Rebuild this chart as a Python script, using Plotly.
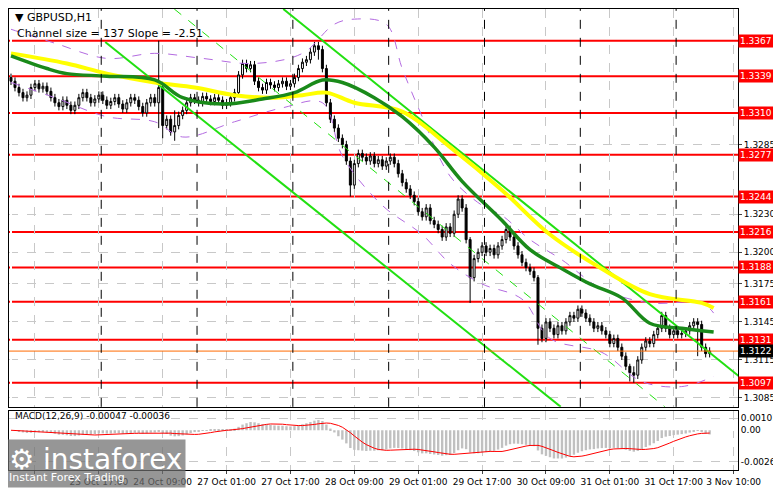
import plotly.graph_objects as go

# hourly closes, GBPUSD H1
closes = [1.3335, 1.3330, 1.3326, 1.3322, 1.3324, 1.3330, 1.3333, 1.3329, 1.3331, 1.3327, 1.3322, 1.3318, 1.3315, 1.3320, 1.3316,
          1.3312, 1.3316, 1.3322, 1.3326, 1.3322, 1.3318, 1.3321, 1.3324, 1.3320, 1.3316, 1.3319, 1.3322, 1.3317, 1.3313, 1.3318,
          1.3322, 1.3320, 1.3315, 1.3310, 1.3318, 1.3322,
          1.3318, 1.3330, 1.3300, 1.3305, 1.3295, 1.3300, 1.3308,
          1.3312, 1.3318, 1.3322, 1.3320, 1.3318, 1.3323, 1.3321, 1.3319, 1.3322, 1.3320, 1.3316, 1.3318, 1.3322, 1.3326,
          1.3340, 1.3349, 1.3345, 1.3348, 1.3335, 1.3330,
          1.3328, 1.3334, 1.3332, 1.3330, 1.3333, 1.3335, 1.3331, 1.3333, 1.3338,
          1.3345, 1.3350, 1.3352, 1.3358, 1.3363, 1.3360,
          1.3345, 1.3318, 1.3305, 1.3298, 1.3290, 1.3285, 1.3272, 1.3253, 1.3270,
          1.3278, 1.3275, 1.3272, 1.3276, 1.3270, 1.3273, 1.3268, 1.3272, 1.3275, 1.3270,
          1.3262, 1.3255, 1.3250, 1.3245, 1.3240, 1.3232, 1.3228, 1.3235, 1.3225,
          1.3222, 1.3218, 1.3212, 1.3220, 1.3215, 1.3230,
          1.3242, 1.3235, 1.3210,
          1.3180, 1.3195, 1.3200,
          1.3205, 1.3200, 1.3203, 1.3198, 1.3205, 1.3210, 1.3218,
          1.3212, 1.3205, 1.3198, 1.3192, 1.3188, 1.3185, 1.3180,
          1.3140, 1.3132, 1.3145,
          1.3140, 1.3135, 1.3142, 1.3138, 1.3145, 1.3150, 1.3148, 1.3155, 1.3152, 1.3148, 1.3145, 1.3140,
          1.3142, 1.3138, 1.3135, 1.3128, 1.3132, 1.3125, 1.3118, 1.3110, 1.3105,
          1.3103, 1.3115, 1.3125, 1.3130, 1.3128,
          1.3135, 1.3140, 1.3150, 1.3140, 1.3135, 1.3138, 1.3135, 1.3136,
          1.3138, 1.3142, 1.3145, 1.3143, 1.3125, 1.3120, 1.3122]
first_open = 1.3338
long_wicks = {37: (1.3367, 1.3298), 38: (1.3332, 1.3290), 41: (1.3312, 1.3288), 77: (1.3366, 1.3352),
              85: (1.3275, 1.3244), 115: (1.3212, 1.3160), 132: (1.3182, 1.3127), 155: (1.3112, 1.3098),
              156: (1.3110, 1.3097), 172: (1.3148, 1.3118)}

yellow_x = [0, 14, 24, 36, 46, 56, 66, 73, 79, 86, 98, 110, 123, 135, 148, 160, 173, 176]
yellow_ma = [1.3357, 1.3349, 1.3341, 1.3334, 1.3330, 1.3324, 1.3322, 1.3324, 1.3326, 1.3318, 1.3311, 1.3283,
             1.3249, 1.3214, 1.3187, 1.3167, 1.3160, 1.3156]
green_x = [0, 9, 14, 24, 36, 43, 53, 63, 71, 78, 83, 91, 98, 106, 113, 123, 130, 138, 145, 153, 160, 168, 176]
green_ma = [1.3355, 1.3345, 1.3341, 1.3339, 1.3336, 1.3322, 1.3317, 1.3321, 1.3326, 1.3336, 1.3334, 1.3322,
            1.3307, 1.3283, 1.3256, 1.3225, 1.3202, 1.3187, 1.3175, 1.3164, 1.3144, 1.3140, 1.3137]
env_up_x = [0, 11, 24, 36, 48, 61, 73, 81, 86, 94, 98, 103, 110, 118, 123, 130, 138, 148, 160, 173, 176]
env_up = [1.3376, 1.3365, 1.3353, 1.3357, 1.3353, 1.3349, 1.3357, 1.3380, 1.3384, 1.3380, 1.3345, 1.3307,
          1.3260, 1.3237, 1.3229, 1.3210, 1.3194, 1.3171, 1.3160, 1.3160, 1.3152]
env_lo_x = [0, 11, 24, 36, 43, 56, 68, 78, 83, 93, 103, 110, 118, 128, 135, 148, 158, 168, 176]
env_lo = [1.3334, 1.3322, 1.3307, 1.3303, 1.3291, 1.3303, 1.3314, 1.3318, 1.3276, 1.3237, 1.3214, 1.3191,
          1.3175, 1.3163, 1.3132, 1.3121, 1.3098, 1.3094, 1.3102]

channel_upper = ([68.2, 182.4], [1.3392, 1.3102])
channel_lower = ([23.6, 137.7], [1.3366, 1.3078])
channel_mid = ([40.9, 163.8], [1.3392, 1.3078])

levels = [1.3367, 1.3339, 1.3310, 1.3277, 1.3244, 1.3216, 1.3188, 1.3161, 1.3131, 1.3097]
last_price = 1.3122
price_ticks = [1.3285, 1.3230, 1.3200, 1.3175, 1.3145, 1.3115, 1.3085]
time_pos = [6, 22, 38, 54, 70, 86, 102, 118, 134, 150, 166, 181]
time_labels = ["23 Oct 2025", "23 Oct 17:00", "24 Oct 09:00", "27 Oct 01:00", "27 Oct 17:00", "28 Oct 09:00",
               "29 Oct 01:00", "29 Oct 17:00", "30 Oct 09:00", "31 Oct 01:00", "31 Oct 17:00", "3 Nov 10:00"]
day_breaks = [22.6, 46.6, 70.6, 94.6, 118.6, 142.6, 166.6]

n = len(closes)
idx = list(range(n))
opens = [first_open] + closes[:-1]
highs, lows = [], []
for i in idx:
    h, l = max(opens[i], closes[i]) + 0.0003, min(opens[i], closes[i]) - 0.0003
    if i in long_wicks:
        h, l = long_wicks[i]
    highs.append(h)
    lows.append(l)


# MACD(12,26,9) from closes, MT4 style: histogram = main, signal = SMA
def ema(vals, p):
    k = 2 / (p + 1)
    out = [vals[0]]
    for v in vals[1:]:
        out.append(out[-1] + k * (v - out[-1]))
    return out


e12, e26 = ema(closes, 12), ema(closes, 26)
macd = [a - b for a, b in zip(e12, e26)]
signal = [sum(macd[max(0, i - 8):i + 1]) / len(macd[max(0, i - 8):i + 1]) for i in idx]

fig = go.Figure()
fig.add_trace(go.Scatter(x=env_up_x, y=env_up, mode="lines", line=dict(color="#b36be0", width=1, dash="dash", shape="spline")))
fig.add_trace(go.Scatter(x=env_lo_x, y=env_lo, mode="lines", line=dict(color="#b36be0", width=1, dash="dash", shape="spline")))
for lv in levels:
    fig.add_hline(y=lv, line=dict(color="#ff0000", width=2), layer="below")
fig.add_hline(y=last_price, line=dict(color="#ff6a00", width=1))
for cx, cy, dash, w in [(channel_upper[0], channel_upper[1], "solid", 2), (channel_lower[0], channel_lower[1], "solid", 2),
                        (channel_mid[0], channel_mid[1], "dash", 1)]:
    fig.add_trace(go.Scatter(x=cx, y=cy, mode="lines", line=dict(color="#22e011", width=w, dash=dash)))
fig.add_trace(go.Scatter(x=yellow_x, y=yellow_ma, mode="lines", line=dict(color="#ffff00", width=4, shape="spline")))
fig.add_trace(go.Scatter(x=green_x, y=green_ma, mode="lines", line=dict(color="#1a8a1a", width=3.5, shape="spline")))
fig.add_trace(go.Candlestick(x=idx, open=opens, high=highs, low=lows, close=closes, whiskerwidth=0,
                             increasing=dict(line=dict(color="black", width=1), fillcolor="white"),
                             decreasing=dict(line=dict(color="black", width=1), fillcolor="black")))
fig.add_trace(go.Bar(x=idx, y=macd, marker=dict(color="#c0c0c0", line=dict(width=0)), width=0.6, xaxis="x2", yaxis="y2"))
fig.add_trace(go.Scatter(x=idx, y=signal, mode="lines", line=dict(color="#ff0000", width=1), xaxis="x2", yaxis="y2"))

for d in day_breaks:
    fig.add_vline(x=d, line=dict(color="black", width=1, dash="dash"))

ann = [dict(x=1, y=lv, xref="paper", yref="y", text=f"{lv:.4f}", showarrow=False, xanchor="left",
            bgcolor="#ff0000", font=dict(color="white", size=9), borderpad=1) for lv in levels]
ann.append(dict(x=1, y=last_price, xref="paper", yref="y", text=f"{last_price:.4f}", showarrow=False, xanchor="left",
                bgcolor="black", font=dict(color="white", size=9), borderpad=1))
ann += [dict(x=0.005, y=1, xref="paper", yref="paper", text="▼ GBPUSD,H1", showarrow=False, xanchor="left",
             yanchor="top", font=dict(size=11, color="black")),
        dict(x=0.008, y=0.965, xref="paper", yref="paper", text="Channel size = 137 Slope = -2.51", showarrow=False,
             xanchor="left", yanchor="top", font=dict(size=11, color="black")),
        dict(x=0.005, y=0.133, xref="paper", yref="paper", text="MACD(12,26,9) -0.00047 -0.00036", showarrow=False,
             xanchor="left", yanchor="top", font=dict(size=9, color="black")),
        dict(x=-0.006, y=-0.04, xref="paper", yref="paper", showarrow=False, xanchor="left", yanchor="bottom",
             text="<span style='font-size:28px'>⚙ instaforex</span><br><span style='font-size:11px'>Instant Forex Trading</span>",
             bgcolor="rgba(110,110,110,0.72)", font=dict(color="white"), align="left", borderpad=3)]

grid = dict(showgrid=True, gridcolor="#c8c8c8", griddash="dash", gridwidth=1)
fig.update_layout(
    width=773, height=481, margin=dict(l=0, r=40, t=0, b=19),
    paper_bgcolor="white", plot_bgcolor="white", showlegend=False, annotations=ann,
    font=dict(family="DejaVu Sans", size=9, color="black"),
    xaxis=dict(range=[-0.5, 182.1], domain=[0, 1], showticklabels=False, rangeslider=dict(visible=False),
               tickvals=time_pos, showline=True, linecolor="black", mirror=True, **grid),
    yaxis=dict(domain=[0.137, 1], range=[1.3078, 1.3392], side="right", tickvals=price_ticks, tickformat=".4f",
               showline=True, linecolor="black", mirror=True, ticks="outside", ticklen=3, **grid),
    xaxis2=dict(range=[-0.5, 182.1], domain=[0, 1], anchor="y2", tickvals=time_pos, ticktext=time_labels,
                tickangle=0, tickfont=dict(size=9),
                showline=True, linecolor="black", mirror=True, ticks="outside", ticklen=3, **grid),
    yaxis2=dict(domain=[0, 0.128], range=[-0.0033, 0.0016], side="right", anchor="x2", tickvals=[0.00101, 0, -0.00262],
                ticktext=["0.00101", "0.00", "-0.00262"], showline=True, linecolor="black", mirror=True, **grid),
)
fig.write_html("out.html")
